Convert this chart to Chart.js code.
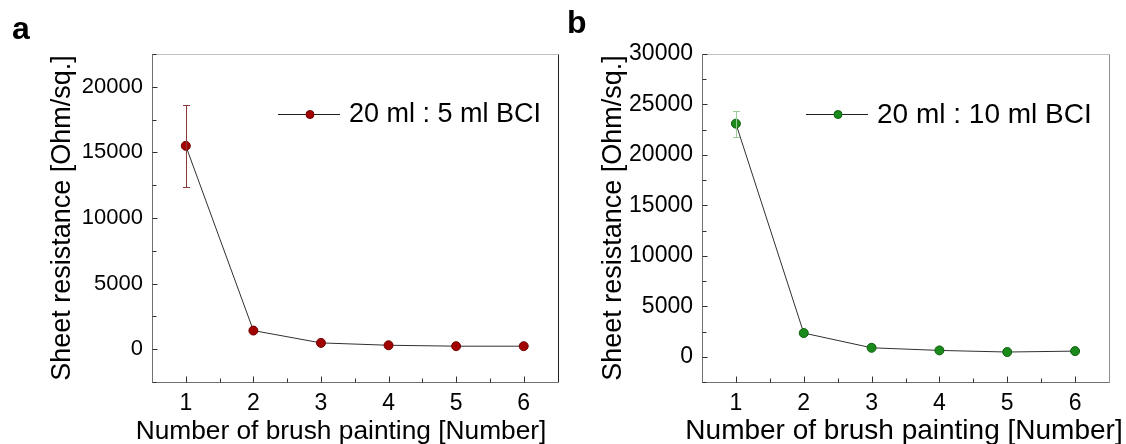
<!DOCTYPE html>
<html>
<head>
<meta charset="utf-8">
<script src="https://cdn.jsdelivr.net/npm/chart.js@4.4.1/dist/chart.umd.min.js"></script>
<style>
  html, body { margin: 0; padding: 0; background: #fff; }
  #wrap { position: relative; width: 1126px; height: 444px; overflow: hidden; font-family: "Liberation Sans", Arial, sans-serif; }
  .box { position: absolute; top: 0; width: 563px; height: 444px; }
  .lbl { position: absolute; font-weight: bold; font-size: 32px; line-height: 1; color: #000; }
</style>
</head>
<body>
<div id="wrap">
  <div class="box" style="left:0"><canvas id="chartA" width="563" height="444"></canvas></div>
  <div class="box" style="left:563px"><canvas id="chartB" width="563" height="444"></canvas></div>
  <div class="lbl" style="left:12px; top:12px">a</div>
  <div class="lbl" style="left:567px; top:6px">b</div>
</div>
<script>
/* ---------- dados ---------- */
const brushCount = [1, 2, 3, 4, 5, 6];
const xTicks = [1, 2, 3, 4, 5, 6];

const resistA = [15500, 1420, 480, 300, 230, 230];
const errA = [3100, 0, 0, 0, 0, 0];
const yTicksA = [0, 5000, 10000, 15000, 20000];
const labelA = '20 ml : 5 ml BCI';

const resistB = [23100, 2350, 890, 630, 470, 560];
const errB = [1300, 0, 0, 0, 0, 0];
const yTicksB = [0, 5000, 10000, 15000, 20000, 25000, 30000];
const labelB = '20 ml : 10 ml BCI';

const xTitle = 'Number of brush painting [Number]';
const yTitle = 'Sheet resistance [Ohm/sq.]';

const FONT = '"Liberation Sans", Arial, sans-serif';

/* ---------- plugin: moldura, ticks internos, barras de erro, legenda ---------- */
const figPlugin = {
    id: 'figPlugin',
    afterDatasetsDraw(chart, args, opts) {
        const ctx = chart.ctx;
        const a = chart.chartArea;
        const xs = chart.scales.x, ys = chart.scales.y;
        ctx.save();

        // barras de erro
        const ds = chart.data.datasets[0];
        ctx.strokeStyle = opts.errColor;
        ctx.lineWidth = 1;
        ds.data.forEach((p, i) => {
            const e = opts.err[i];
            if (!e) return;
            const px = Math.round(xs.getPixelForValue(p.x)) + 0.5;
            const yt = Math.round(ys.getPixelForValue(p.y + e)) + 0.5;
            const yb = Math.round(ys.getPixelForValue(p.y - e)) + 0.5;
            ctx.beginPath();
            ctx.moveTo(px, yt); ctx.lineTo(px, yb);
            ctx.moveTo(px - 3.5, yt); ctx.lineTo(px + 3.5, yt);
            ctx.moveTo(px - 3.5, yb); ctx.lineTo(px + 3.5, yb);
            ctx.stroke();
        });

        // moldura
        const L = Math.round(a.left) + 0.5, R = Math.round(a.right) + 0.5;
        const T = Math.round(a.top) + 0.5, B = Math.round(a.bottom) + 0.5;
        ctx.lineWidth = 1;
        ctx.strokeStyle = '#c0c0c0';
        ctx.beginPath(); ctx.moveTo(L, T); ctx.lineTo(R, T); ctx.stroke();
        ctx.strokeStyle = opts.rightColor;
        ctx.beginPath(); ctx.moveTo(R, T); ctx.lineTo(R, B); ctx.stroke();
        ctx.strokeStyle = '#707070';
        ctx.beginPath(); ctx.moveTo(L, T); ctx.lineTo(L, B); ctx.lineTo(R, B); ctx.stroke();

        // ticks para dentro (maiores e menores)
        ctx.strokeStyle = '#303030';
        ctx.beginPath();
        const yt = ys.ticks.map(t => t.value);
        const step = yt[1] - yt[0];
        for (let v = yt[0] - step / 2; v <= ys.max; v += step / 2) {
            if (v < ys.min) continue;
            const py = Math.round(ys.getPixelForValue(v)) + 0.5;
            const len = (Math.abs(v % step) < 1e-6) ? 5 : 4;
            ctx.moveTo(L, py); ctx.lineTo(L + len, py);
        }
        for (let v = xs.min; v <= xs.max + 1e-6; v += 0.5) {
            const px = Math.round(xs.getPixelForValue(v)) + 0.5;
            const major = Math.abs(v - Math.round(v)) < 1e-6;
            if (v === xs.min || v === xs.max) continue;
            ctx.moveTo(px, B); ctx.lineTo(px, B - (major ? 6 : 4));
        }
        ctx.stroke();

        // legenda
        const lx = opts.legX, ly = opts.legY;
        ctx.strokeStyle = '#202020';
        ctx.beginPath(); ctx.moveTo(lx, ly + 0.5); ctx.lineTo(lx + 62, ly + 0.5); ctx.stroke();
        ctx.fillStyle = ds.pointBackgroundColor;
        ctx.strokeStyle = ds.pointBorderColor;
        ctx.beginPath(); ctx.arc(lx + 32, ly + 0.5, 4, 0, Math.PI * 2); ctx.fill(); ctx.stroke();
        ctx.fillStyle = '#000';
        ctx.font = opts.legSize + 'px ' + FONT;
        ctx.textBaseline = 'middle';
        ctx.textAlign = 'left';
        ctx.fillText(ds.label, lx + 71, ly + 1);

        // título do eixo x
        ctx.font = opts.xtSize + 'px ' + FONT;
        ctx.textAlign = 'center';
        ctx.textBaseline = 'alphabetic';
        ctx.fillText(xTitle, opts.xtX, 439);
        ctx.restore();
    }
};

function criarGrafico(id, valores, erros, yTicks, yMin, yMax, rotulo, cor, borda, corErro, dims) {
    const ctx = document.getElementById(id).getContext('2d');
    return new Chart(ctx, {
        type: 'line',
        data: {
            datasets: [{
                label: rotulo,
                data: brushCount.map((x, i) => ({ x: x, y: valores[i] })),
                borderColor: '#303030',
                borderWidth: 1,
                pointRadius: 4.5,
                pointBackgroundColor: cor,
                pointBorderColor: borda,
                pointBorderWidth: 1,
                tension: 0
            }]
        },
        options: {
            responsive: false,
            animation: false,
            events: [],
            layout: { padding: { top: dims.top, right: dims.right, left: 0, bottom: 0 } },
            plugins: {
                legend: { display: false },
                tooltip: { enabled: false },
                figPlugin: {
                    err: erros, errColor: corErro, rightColor: dims.rightColor,
                    legX: dims.legX, legY: dims.legY, legSize: dims.legSize,
                    xtX: dims.xtX, xtSize: dims.xtSize
                }
            },
            scales: {
                x: {
                    type: 'linear',
                    min: 0.5, max: 6.5,
                    afterBuildTicks: s => { s.ticks = xTicks.map(v => ({ value: v })); },
                    afterFit: s => { s.height = dims.xH; },
                    grid: { display: false, drawTicks: false },
                    border: { display: false },
                    ticks: { color: '#000', padding: 8, font: { size: 23, family: FONT }, callback: v => String(v) }
                },
                y: {
                    min: yMin, max: yMax,
                    afterBuildTicks: s => { s.ticks = yTicks.map(v => ({ value: v })); },
                    afterFit: s => { s.width = dims.yW; },
                    grid: { display: false, drawTicks: false },
                    border: { display: false },
                    ticks: { color: '#000', padding: 9, font: { size: dims.ytSize, family: FONT }, callback: v => String(v) },
                    title: {
                        display: true,
                        text: yTitle,
                        color: '#000',
                        font: { size: 27, family: FONT, lineHeight: 1 },
                        padding: { top: dims.titleOff, bottom: 0 }
                    }
                }
            }
        },
        plugins: [figPlugin]
    });
}

window.onload = () => {
    criarGrafico('chartA', resistA, errA, yTicksA, -2500, 22500, labelA,
        '#a30000', '#6e0000', '#8b3a3a',
        { top: 54, right: 5, xH: 62, yW: 152, titleOff: 49, rightColor: '#202020',
          legX: 278, legY: 114, legSize: 27, xtX: 341, xtSize: 26.3, ytSize: 22 });
    criarGrafico('chartB', resistB, errB, yTicksB, -2500, 30000, labelB,
        '#1a8a1a', '#0d5e0d', '#99cc99',
        { top: 54, right: 17, xH: 62, yW: 139, titleOff: 37, rightColor: '#909090',
          legX: 243, legY: 114, legSize: 28, xtX: 341, xtSize: 28, ytSize: 23 });
};
</script>
</body>
</html>
